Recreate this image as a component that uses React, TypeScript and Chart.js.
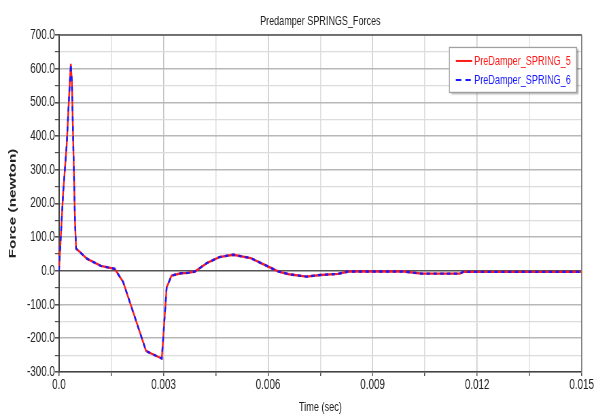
import React, { useEffect, useRef } from "react";
import { Chart, registerables } from "chart.js";

Chart.register(...registerables);

const times: number[] = [0, 0.00012, 0.00022, 0.0003, 0.00034, 0.00037, 0.00041, 0.00046, 0.00049, 0.0006, 0.0008, 0.0012, 0.0016, 0.00184, 0.0025, 0.00295, 0.00309, 0.00323, 0.0035, 0.0037, 0.0039, 0.00424, 0.0046, 0.005, 0.0055, 0.006, 0.0063, 0.0066, 0.0071, 0.0075, 0.008, 0.0083, 0.0099, 0.0104, 0.0115, 0.0116, 0.015];
const spring5: number[] = [0, 234, 372, 540, 614, 560, 372, 145, 66, 56, 36, 15, 6, -33, -238, -260, -49, -14, -7, -6, -2, 23, 41, 48, 38, 13, -2, -10, -17, -12, -9, -2, -2, -8, -8, -3, -3];
const spring6: number[] = [0, 234, 372, 540, 614, 560, 372, 145, 66, 56, 36, 15, 6, -33, -238, -260, -49, -14, -7, -6, -2, 23, 41, 48, 38, 13, -2, -10, -17, -12, -9, -2, -2, -8, -8, -3, -3];
const seriesLabels: string[] = ["PreDamper_SPRING_5", "PreDamper_SPRING_6"];
const chartTitle = "Predamper SPRINGS_Forces";
const xTitle = "Time (sec)";
const yTitle = "Force (newton)";
const xMin = 0, xMax = 0.015, xStep = 0.0015;
const yMin = -300, yMax = 700, yStep = 50;

// The reference is horizontally squeezed: draw on a wider canvas and display it at 594px.
const SQUEEZE = 0.68;
const OUT_W = 594;
const OUT_H = 415;
const IN_W = Math.round(OUT_W / SQUEEZE);

const FONT = "'Liberation Sans', Arial, sans-serif";

const legendPlugin = {
  id: "insideLegend",
  afterDraw(chart: any) {
    const { ctx, chartArea } = chart;
    ctx.save();
    ctx.font = `13.4px ${FONT}`;
    const tw = Math.max(...seriesLabels.map((l) => ctx.measureText(l).width));
    const lineW = 24;
    const boxW = 10 + lineW + 3 + tw + 8;
    const boxH = 45;
    const right = chartArea.right - 8;
    const left = right - boxW;
    const top = chartArea.top + 12;
    ctx.shadowColor = "rgba(0,0,0,0.35)";
    ctx.shadowOffsetX = 3;
    ctx.shadowOffsetY = 2;
    ctx.shadowBlur = 2;
    ctx.fillStyle = "#ffffff";
    ctx.fillRect(left, top, boxW, boxH);
    ctx.shadowColor = "transparent";
    ctx.strokeStyle = "#a0a0a0";
    ctx.lineWidth = 1.3;
    ctx.strokeRect(left + 0.5, top + 0.5, boxW, boxH);
    const colors = ["#ff1a1a", "#1a1aff"];
    const dashes = [[], [8, 6]];
    const ys = [top + 14, top + 33];
    for (let i = 0; i < 2; i++) {
      ctx.beginPath();
      ctx.setLineDash(dashes[i]);
      ctx.strokeStyle = colors[i];
      ctx.lineWidth = 2;
      ctx.moveTo(left + 10, ys[i]);
      ctx.lineTo(left + 10 + lineW, ys[i]);
      ctx.stroke();
      ctx.setLineDash([]);
      ctx.fillStyle = colors[i];
      ctx.textBaseline = "middle";
      ctx.textAlign = "left";
      ctx.fillText(seriesLabels[i], left + 10 + lineW + 3, ys[i]);
    }
    ctx.restore();
  },
};

const framePlugin = {
  id: "frame",
  afterDatasetsDraw(chart: any) {
    const { ctx, chartArea } = chart;
    ctx.save();
    ctx.strokeStyle = "#555";
    ctx.lineWidth = 1.5;
    ctx.beginPath();
    ctx.moveTo(chartArea.left, chartArea.top);
    ctx.lineTo(chartArea.right, chartArea.top);
    ctx.stroke();
    ctx.strokeStyle = "#777";
    ctx.lineWidth = 1.5;
    ctx.beginPath();
    ctx.moveTo(chartArea.right, chartArea.top);
    ctx.lineTo(chartArea.right, chartArea.bottom);
    ctx.stroke();
    ctx.restore();
  },
};

export default function App() {
  const ref = useRef<HTMLCanvasElement | null>(null);
  useEffect(() => {
    if (!ref.current) return;
    const chart = new Chart(ref.current, {
      type: "line",
      data: {
        datasets: [
          {
            label: seriesLabels[0],
            data: times.map((t, i) => ({ x: t, y: spring5[i] })),
            borderColor: "#ff1a1a",
            borderWidth: 2.4,
            pointRadius: 0,
            tension: 0,
            order: 2,
          },
          {
            label: seriesLabels[1],
            data: times.map((t, i) => ({ x: t, y: spring6[i] })),
            borderColor: "#1a1aff",
            borderWidth: 2.4,
            borderDash: [5, 5],
            pointRadius: 0,
            tension: 0,
            order: 1,
          },
        ],
      },
      options: {
        animation: false,
        responsive: false,
        devicePixelRatio: 1,
        layout: { padding: { left: 4, right: 18, top: 0, bottom: 0 } },
        plugins: {
          legend: { display: false },
          tooltip: { enabled: false },
          title: {
            display: true,
            text: chartTitle,
            fullSize: false,
            color: "#222",
            font: { family: FONT, size: 13.3, weight: "normal" },
            padding: { top: 13.5, bottom: 5.5 },
          },
        },
        scales: {
          x: {
            type: "linear",
            min: xMin,
            max: xMax,
            afterFit: (s: any) => { s.height = 43; },
            ticks: {
              stepSize: xStep,
              autoSkip: false,
              maxRotation: 0,
              padding: 0,
              color: "#222",
              font: { family: FONT, size: 14.5 },
              callback: (v: any, i: number) => (i % 2 === 0 ? (v === 0 ? "0.0" : Number(v).toFixed(3)) : ""),
            },
            grid: {
              color: (c: any) => ((c.index ?? 0) % 2 === 0 ? "#c4c4c4" : "#dedede"),
              lineWidth: 1.5,
              tickLength: 4,
              tickColor: "#555",
            },
            border: { color: "#444", width: 1.5 },
            title: {
              display: true,
              text: xTitle,
              color: "#222",
              font: { family: FONT, size: 13.5 },
              padding: { top: -3, bottom: 0 },
            },
          },
          y: {
            type: "linear",
            min: yMin,
            max: yMax,
            afterFit: (s: any) => { s.width = 82.8; },
            ticks: {
              stepSize: yStep,
              autoSkip: false,
              padding: 0,
              color: "#222",
              font: { family: FONT, size: 14.5 },
              callback: (v: any) => (Math.round(Number(v)) % 100 === 0 ? Number(v).toFixed(1) : ""),
            },
            grid: {
              color: (c: any) => {
                const v = Math.round(c.tick?.value ?? 1);
                if (v === 0) return "#555";
                return v % 100 === 0 ? "#b8b8b8" : "#dcdcdc";
              },
              lineWidth: (c: any) => {
                const v = Math.round(c.tick?.value ?? 1);
                if (v === 0) return 1.5;
                return v % 100 === 0 ? 1.6 : 1.2;
              },
              tickLength: 6,
              tickColor: "#555",
            },
            border: { color: "#444", width: 2 },
            title: {
              display: true,
              text: yTitle,
              color: "#222",
              font: { family: FONT, size: 15.3, weight: "bold" },
              padding: { top: 5.9, bottom: 0 },
            },
          },
        },
      },
      plugins: [framePlugin, legendPlugin],
    } as any);
    return () => chart.destroy();
  }, []);
  return (
    <div style={{ position: "fixed", left: 0, top: 0, width: OUT_W, height: OUT_H, background: "#fff" }}>
      <canvas
        ref={ref}
        width={IN_W}
        height={OUT_H}
        style={{ width: OUT_W + "px", height: OUT_H + "px", display: "block" }}
      />
    </div>
  );
}
